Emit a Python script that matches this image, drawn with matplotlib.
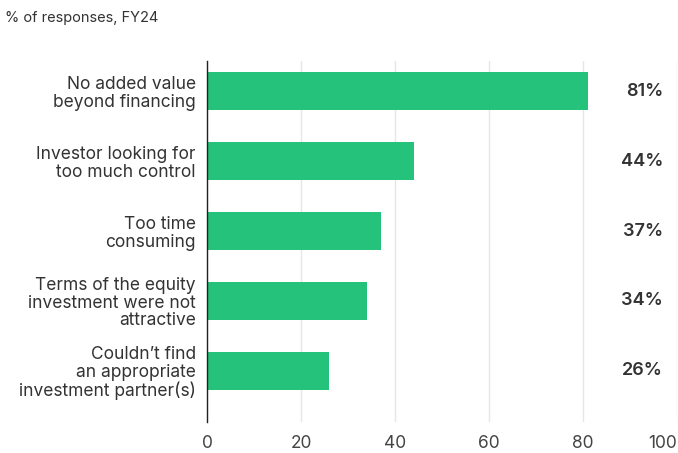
import matplotlib.pyplot as plt
import numpy as np

plt.rcParams['font.family'] = ['Inter', 'DejaVu Sans']

# data
categories = ["No added value\nbeyond financing",
              "Investor looking for\ntoo much control",
              "Too time\nconsuming",
              "Terms of the equity\ninvestment were not\nattractive",
              "Couldn\u2019t find\nan appropriate\ninvestment partner(s)"]
values = [81, 44, 37, 34, 26]
xticks = [0, 20, 40, 60, 80, 100]

green = '#24c27a'
txt = '#333333'

fig = plt.figure(figsize=(6.78, 4.53), dpi=100)
ax = fig.add_axes([207/678, 1 - 422/453, 470/678, (422 - 61)/453])

y = np.arange(len(categories))
ax.barh(y, values, height=0.54, color=green, zorder=2)
ax.set_ylim(len(categories) - 1 + 0.73, -0.43)
ax.set_xlim(0, 100)

# value labels on the right
for yi, v in zip(y, values):
    ax.text(97, yi, f"{v}%", ha='right', va='center', fontsize=13,
            fontweight='semibold', color=txt)

ax.set_yticks(y)
ax.set_yticklabels(categories, fontsize=12.5, color=txt, linespacing=1.05)
ax.tick_params(axis='y', length=0, pad=8)

ax.set_xticks(xticks)
ax.set_xticklabels([str(t) for t in xticks], fontsize=12.5, color='#444444')
ax.tick_params(axis='x', length=0, pad=9)
ax.get_xticklabels()[-1].set_ha('right')

ax.grid(axis='x', color='#e6e6e6', linewidth=1, zorder=0)
for s in ['top', 'right', 'bottom']:
    ax.spines[s].set_visible(False)
ax.spines['left'].set_color('#222222')
ax.spines['left'].set_linewidth(1)
ax.spines['left'].set_zorder(3)

fig.text(5/678, 1 - 18/453, "% of responses, FY24", fontsize=10.5, color=txt,
         ha='left', va='center')

fig.savefig('out.png', dpi=100)
